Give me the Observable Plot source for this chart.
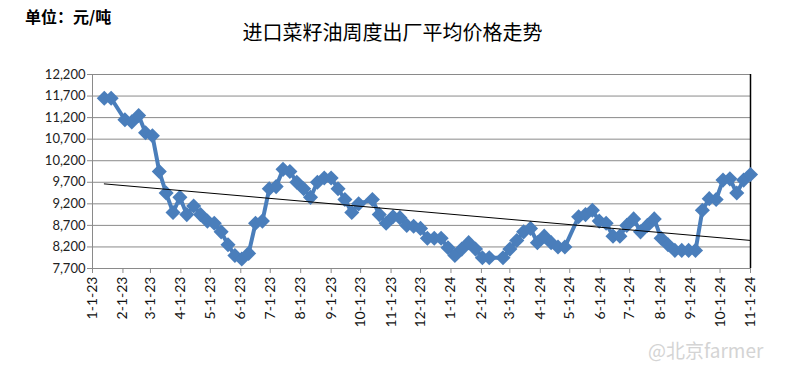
<!DOCTYPE html>
<html>
<head>
<meta charset="utf-8">
<script src="https://cdn.jsdelivr.net/npm/d3@7"></script>
<script src="https://cdn.jsdelivr.net/npm/@observablehq/plot@0.6"></script>
<style>
  html, body { margin: 0; padding: 0; background: #fff; }
  #wrap { position: relative; width: 785px; height: 367px; overflow: hidden; background: #fff; }
  #unit { position: absolute; left: 25px; top: 4px; font: bold 16px "Noto Sans CJK SC", sans-serif; color: #000; }
  #title { position: absolute; left: 0; width: 785px; top: 17px; text-align: center; font: 20px "Noto Sans CJK SC", sans-serif; color: #000; }
  #wm { position: absolute; left: 648px; top: 336px; font: 19px "Noto Sans CJK SC", sans-serif; color: #d4d4d4; }
  #chart { position: absolute; left: 0; top: 0; }
</style>
</head>
<body>
<div id="wrap">
  <div id="chart"></div>
  <div id="unit">单位：元/吨</div>
  <div id="title">进口菜籽油周度出厂平均价格走势</div>
  <div id="wm">@北京farmer</div>
</div>
<script>
const dates = [
  "2023-01-13","2023-01-20","2023-02-03","2023-02-10","2023-02-17","2023-02-24",
  "2023-03-03","2023-03-10","2023-03-17","2023-03-24","2023-03-31",
  "2023-04-07","2023-04-14","2023-04-21","2023-04-28",
  "2023-05-05","2023-05-12","2023-05-19","2023-05-26",
  "2023-06-02","2023-06-09","2023-06-16","2023-06-23","2023-06-30",
  "2023-07-07","2023-07-14","2023-07-21","2023-07-28",
  "2023-08-04","2023-08-11","2023-08-18","2023-08-25",
  "2023-09-01","2023-09-08","2023-09-15","2023-09-22","2023-09-29",
  "2023-10-13","2023-10-20","2023-10-27",
  "2023-11-03","2023-11-10","2023-11-17","2023-11-24",
  "2023-12-01","2023-12-08","2023-12-15","2023-12-22","2023-12-29",
  "2024-01-05","2024-01-12","2024-01-19","2024-01-26",
  "2024-02-02","2024-02-09","2024-02-23",
  "2024-03-01","2024-03-08","2024-03-15","2024-03-22","2024-03-29",
  "2024-04-05","2024-04-12","2024-04-19","2024-04-26",
  "2024-05-10","2024-05-17","2024-05-24","2024-05-31",
  "2024-06-07","2024-06-14","2024-06-21","2024-06-28",
  "2024-07-05","2024-07-12","2024-07-19","2024-07-26",
  "2024-08-02","2024-08-09","2024-08-16","2024-08-23","2024-08-30",
  "2024-09-06","2024-09-13","2024-09-20","2024-09-27",
  "2024-10-04","2024-10-11","2024-10-18","2024-10-25","2024-11-01"
];
const prices = [
  11650,11650,11150,11100,11250,10850,
  10780,9950,9450,9000,9350,
  8950,9150,8950,8800,
  8750,8550,8250,8000,
  7920,8050,8750,8800,9550,
  9600,10000,9950,9700,
  9550,9350,9700,9800,
  9800,9550,9300,9000,9200,
  9300,8950,8750,
  8900,8880,8700,8680,
  8630,8400,8400,8400,8180,
  8000,8150,8300,8150,
  7950,7950,7950,
  8150,8350,8550,8630,8300,
  8450,8300,8200,8200,
  8900,8950,9050,8800,
  8750,8450,8450,8700,
  8850,8550,8700,8850,
  8400,8250,8120,8120,8120,
  8120,9050,9320,9300,
  9750,9780,9450,9750,9880
];
const yTicks = [7700,8200,8700,9200,9700,10200,10700,11200,11700,12200];
const xStart = "2023-01-01", xEnd = "2024-11-01";

const data = dates.map((d, i) => ({date: new Date(d), price: prices[i]}));
const monthTicks = d3.utcMonths(new Date(xStart), d3.utcDay.offset(new Date(xEnd), 1));
const fmtX = d => `${d.getUTCMonth() + 1}-${d.getUTCDate()}-${String(d.getUTCFullYear()).slice(2)}`;
const blue = "#4a7ebb";

const chart = Plot.plot({
  width: 785,
  height: 367,
  marginTop: 74,
  marginBottom: 99,
  marginLeft: 92,
  marginRight: 35,
  style: {fontFamily: "Lato, 'Liberation Sans', sans-serif", background: "transparent"},
  x: {type: "utc", domain: [new Date(xStart), new Date(xEnd)]},
  y: {domain: [yTicks[0], yTicks[yTicks.length - 1]]},
  marks: [
    Plot.gridY(yTicks, {stroke: "#8a8a8a", strokeOpacity: 1, strokeWidth: 1}),
    Plot.ruleX([new Date(xStart)], {stroke: "#8a8a8a", strokeWidth: 1}),
    Plot.ruleX([new Date(xEnd)], {stroke: "#000", strokeWidth: 1.5}),
    Plot.ruleY([yTicks[0]], {stroke: "#8a8a8a", strokeWidth: 1}),
    Plot.axisY(yTicks, {tickFormat: d3.format(","), tickSize: 5, tickPadding: 2, stroke: "#8a8a8a", fontSize: 13, fill: "#222", label: null}),
    Plot.axisX(monthTicks, {tickFormat: fmtX, tickRotate: -90, tickSize: 5, tickPadding: 3, stroke: "#8a8a8a", fontSize: 14, fill: "#111", label: null}),
    Plot.line(data, {x: "date", y: "price", stroke: blue, strokeWidth: 4}),
    Plot.dot(data, {x: "date", y: "price", symbol: "diamond2", r: 6.8, fill: blue, stroke: "none"}),
    Plot.linearRegressionY(data, {x: "date", y: "price", stroke: "#000", strokeWidth: 1, ci: 0})
  ]
});
document.getElementById("chart").appendChild(chart);
</script>
</body>
</html>
